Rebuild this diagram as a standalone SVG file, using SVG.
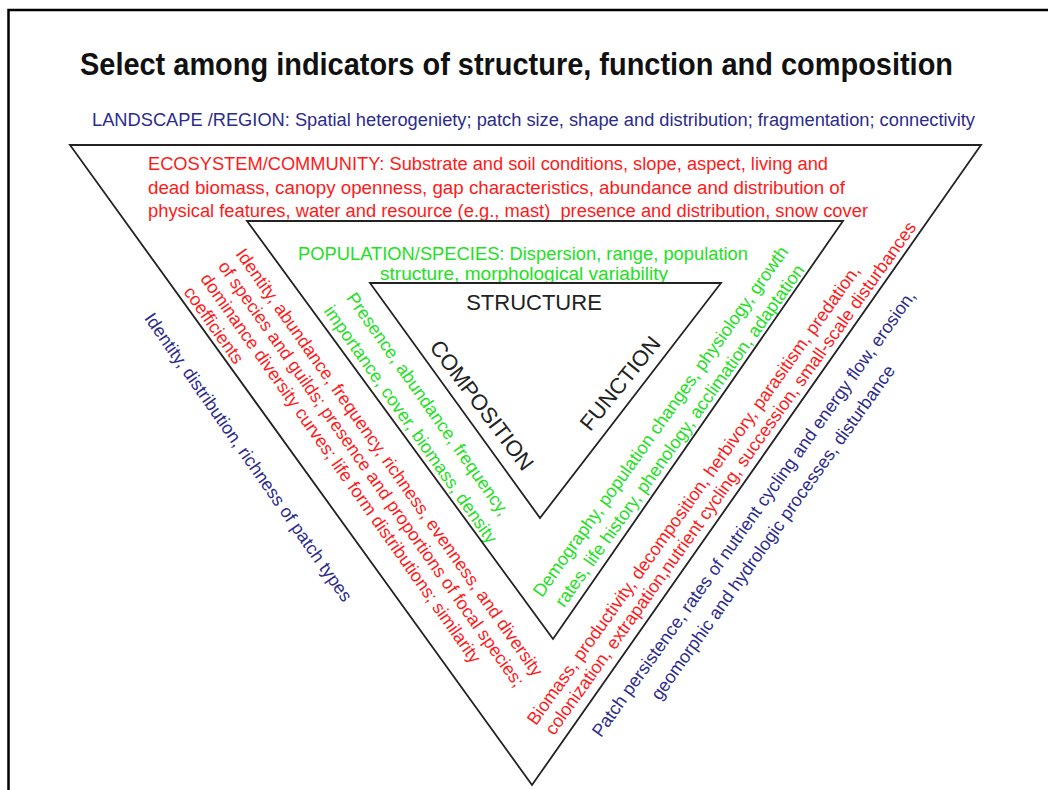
<svg xmlns="http://www.w3.org/2000/svg" width="1048" height="790" viewBox="0 0 1048 790">
<style>
text{font-family:"Liberation Sans",Arial,sans-serif;font-size:18px}
.title{font-size:31px;font-weight:bold;fill:#111}
.blue{fill:#2b2b8e}
.red{fill:#ff1a1a}
.green{fill:#22e022}
.core{font-size:22px;fill:#222}
.tri{fill:none;stroke:#222;stroke-width:1.8}
</style>
<rect width="1048" height="790" fill="#fff"/>
<path id="frame" d="M8.5,790 V10 H1048" fill="none" stroke="#000" stroke-width="2.5"/>
<g id="title"><text class="title" x="80" y="75" textLength="873" lengthAdjust="spacingAndGlyphs">Select among indicators of structure, function and composition</text></g>
<g id="landscape">
<text class="blue" x="92" y="126" textLength="883" lengthAdjust="spacingAndGlyphs">LANDSCAPE /REGION: Spatial heterogeniety; patch size, shape and distribution; fragmentation; connectivity</text>
<text class="blue" transform="translate(243.4,460.7) rotate(55)" text-anchor="middle">Identity, distribution, richness of patch types</text>
<text class="blue" transform="translate(600.9,738.3) rotate(-54.5)">Patch persistence, rates of nutrient cycling and energy flow, erosion,</text>
<text class="blue" transform="translate(659.9,701.3) rotate(-54.5)">geomorphic and hydrologic processes, disturbance</text>
</g>
<g id="ecosystem">
<text class="red" x="148" y="170" textLength="680" lengthAdjust="spacingAndGlyphs">ECOSYSTEM/COMMUNITY: Substrate and soil conditions, slope, aspect, living and</text>
<text class="red" x="148" y="194" textLength="697" lengthAdjust="spacingAndGlyphs">dead biomass, canopy openness, gap characteristics, abundance and distribution of</text>
<text class="red" x="148" y="217" textLength="720" lengthAdjust="spacingAndGlyphs" xml:space="preserve">physical features, water and resource (e.g., mast)  presence and distribution, snow cover</text>
<text class="red" transform="translate(235,254) rotate(54.8)">Identity, abundance, frequency, richness, evenness, and diversity</text>
<text class="red" transform="translate(217.4,266.4) rotate(54.8)">of species and guilds; presence and proportions of focal species;</text>
<text class="red" transform="translate(199.8,278.8) rotate(54.8)">dominance diversity curves; life form distributions; similarity</text>
<text class="red" transform="translate(183,292) rotate(54.8)">coefficients</text>
<text class="red" transform="translate(535.9,726.3) rotate(-54.5)">Biomass, productivity, decomposition, herbivory, parasitism, predation,</text>
<text class="red" transform="translate(553.9,736.3) rotate(-54.5)">colonization, extrapation,nutrient cycling, succession, small-scale disturbances</text>
</g>
<g id="population">
<text class="green" x="298" y="260" textLength="450" lengthAdjust="spacingAndGlyphs">POPULATION/SPECIES: Dispersion, range, population</text>
<text class="green" x="380" y="280" textLength="288" lengthAdjust="spacingAndGlyphs">structure, morphological variability</text>
<text class="green" transform="translate(345.8,298.1) rotate(54.8)">Presence, abundance, frequency,</text>
<text class="green" transform="translate(323.3,311.1) rotate(54.8)">importance, cover, biomass, density</text>
<text class="green" transform="translate(541.9,598.3) rotate(-54.5)">Demography, population changes, physiology, growth</text>
<text class="green" transform="translate(563.9,608.3) rotate(-54.5)">rates, life history, phenology, acclimation, adaptation</text>
</g>
<g id="core">
<text class="core" x="534" y="310" text-anchor="middle">STRUCTURE</text>
<text class="core" transform="translate(475.7,409.8) rotate(53)" text-anchor="middle">COMPOSITION</text>
<text class="core" transform="translate(626,388) rotate(-51)" text-anchor="middle">FUNCTION</text>
</g>
<g id="triangles">
<polygon class="tri" points="70,145 981,145 532,785"/>
<polygon class="tri" points="247,221 843,221 553,639"/>
<polygon class="tri" points="370,283 721,283 540,518"/>
</g>
</svg>
